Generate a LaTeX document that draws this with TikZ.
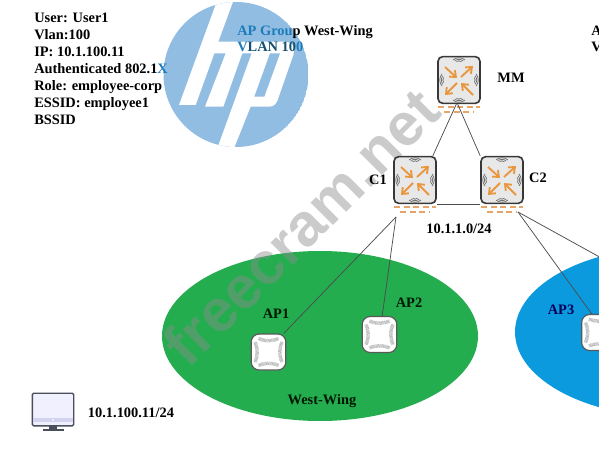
\documentclass[tikz,border=0pt]{standalone}
\usepackage{fontspec}
\setmainfont{Liberation Serif}
\newfontfamily\wmfont{Liberation Sans}
\usetikzlibrary{arrows.meta}
\definecolor{hpblue}{HTML}{92BDE3}
\definecolor{tblue}{HTML}{1C7CBA}
\definecolor{tmid}{HTML}{14506F}
\definecolor{wgreen}{HTML}{23AD4F}
\definecolor{eblue}{HTML}{0C9ADF}
\definecolor{orng}{HTML}{E8973F}
\definecolor{dashor}{HTML}{E6A468}
\definecolor{frame}{HTML}{4A4F5C}
\tikzset{
  x=.75pt,y=-.75pt,
  lab/.style={font=\fontsize{10.8}{12.7}\selectfont\bfseries,inner sep=0pt,text=black},
  onGreen/.style={lab,text=black!85!green!60!black},
  onBlue/.style={lab,text=blue!35!black},
  link/.style={draw=black!70,line width=.55pt},
  ctrlbox/.style={draw=black!78,line width=1.2pt,fill=black!9,rounded corners=3.5pt,minimum width=31.5pt,minimum height=35pt,inner sep=0pt},
  apbox/.style={draw=black!65,line width=.9pt,fill=white,rounded corners=6pt,minimum width=26pt,minimum height=27pt,inner sep=0pt},
  pics/ctrlmark/.style={code={
    \foreach \sx/\sy/\ex/\ey in {-14/-13/-2/-2,2/-3/14/-14,-2/3/-14/15,14/15/2/3}
      \draw[orng,line width=1.4pt,-{Straight Barb[length=4pt,width=6.5pt]}] (\sx,\sy) -- (\ex,\ey);
    \foreach \a/\d in {0/17,90/14,180/17,270/14}
      \foreach \w in {2.5,4.2,6}
        \draw[rotate=\a,black!60,line width=.5pt]
          (-\w,-\d-\w*.5) .. controls (-\w*.4,-\d-\w*1) and (\w*.4,-\d-\w*1) .. (\w,-\d-\w*.5);
    \draw[dashor,line width=1.3pt,dash pattern=on 4.6pt off 2.6pt] (-21,27) -- (21,27);
    \draw[dashor,line width=1.3pt,dash pattern=on 4.6pt off 2.6pt] (-15,32) -- (15,32);
  }},
  pics/apmark/.style={code={
    \foreach \a in {0,90,180,270}
      \draw[rotate=\a,black!28,line width=2.6pt,dash pattern=on .5pt off .4pt]
        (-10,-13.5) .. controls (-3,-10.5) and (3,-10.5) .. (10,-13.5);
  }}
}
\begin{document}
\begin{tikzpicture}
\useasboundingbox (0,0) rectangle (599,449);
\clip (0,0) rectangle (599,449);
\fill[white] (0,0) rectangle (599,449);
% HP logo
\begin{scope}
  \clip (236,74.5) circle [radius=72.5];
  \fill[hpblue] (236,74.5) circle [radius=72.5];
  \begin{scope}[shift={(155,0)},x=.25pt,y=-.25pt]
    \fill[white] (187,0) -- (236,0) -- (190,125) -- (385,125)
      .. controls (408,125) and (424,135) .. (415,165)
      -- (368,300) .. controls (362,315) and (355,320) .. (340,320)
      -- (287,320) -- (235,450) -- (185,450) -- (290,160) -- (262,160)
      -- (205,320) -- (150,320) -- (212,160) -- (178,160) -- (122,315) -- (72,315) -- cycle;
    \fill[hpblue] (345,160) -- (375,160) -- (328,290) -- (298,290) -- cycle;
  \end{scope}
\end{scope}
% ellipses
\fill[wgreen] (320,336) ellipse [x radius=158,y radius=85];
\fill[eblue] (673,332) ellipse [x radius=158,y radius=85];
% watermark
\node[rotate=45,text=black!45,opacity=.45,inner sep=0pt,font=\fontsize{45}{45}\selectfont\wmfont\bfseries] (wm) at (301,227) {freecram.net};
% texts
\node[lab,anchor=north west,align=left] (info) at (34,13) {User: User1\\Vlan:100\\IP: 10.1.100.11\\Authenticated 802.1\textcolor{tblue}{X}\\Role: employee-corp\\ESSID: employee1\\BSSID};
\node[lab,anchor=base west] (grp) at (237,36) {\textcolor{tblue}{AP Grou}p West-Wing};
\node[lab,anchor=base west] (vlan) at (237,52) {\textcolor{tblue}{V}\textcolor{tmid}{LAN 10}\textcolor{tblue}{0}};
\node[lab,anchor=base west] (grpb) at (591,36) {A};
\node[lab,anchor=base west] (vlanb) at (591,52) {V};
% controllers
\node[ctrlbox] (mm) at (459,80) {};
\node[ctrlbox] (c1) at (415,180) {};
\node[ctrlbox] (c2) at (502,180) {};
\pic at (459,80) {ctrlmark};
\pic at (415,180) {ctrlmark};
\pic at (502,180) {ctrlmark};
\node[lab] (lmm) at (511,78) {MM};
\node[lab] (lc1) at (378,180) {C1};
\node[lab] (lc2) at (538,178) {C2};
\node[lab] (net) at (459,229) {10.1.1.0/24};
% access points
\node[apbox] (ap1) at (268.5,352) {};
\node[apbox] (ap2) at (379.5,334.5) {};
\node[apbox] (ap3) at (599,332.5) {};
\pic at (268.5,352) {apmark};
\pic at (379.5,334.5) {apmark};
\pic at (599,332.5) {apmark};
\node[onGreen] (lap1) at (276,314) {AP1};
\node[onGreen] (lap2) at (409,303) {AP2};
\node[onBlue] (lap3) at (561,310) {AP3};
\node[onGreen] (lww) at (322,401) {West-Wing};
% ports and free ends
\coordinate (c1port) at (396,217);
\coordinate (c2port) at (518,212);
\coordinate (east) at (605,260);
% links
\draw[link] ([xshift=-2pt]mm.south) -- ([xshift=-3pt]c1.north east);
\draw[link] ([xshift=-1pt]mm.south) -- (c2.north west);
\draw[link] (c1.south east) -- (c2.south west);
\draw[link] (c1port) -- ([xshift=-2pt]ap1.north east);
\draw[link] (c1port) -- ([xshift=2pt]ap2.north);
\draw[link] (c2port) -- ([xshift=8pt]ap3.north west);
\draw[link] (c2port) -- (east);
% PC
\node[draw=frame,line width=1pt,fill=black!2!blue!6,rounded corners=1pt,minimum width=31pt,minimum height=24.5pt,inner sep=0pt] (pc) at (53,409.5) {};
\fill[frame!45!blue!20!white] (33,417.5) rectangle (73,422);
\fill[white] (53,420) circle [radius=1];
\fill[frame] (49,426) rectangle (57,429);
\draw[frame,line width=1pt] (42.5,430) -- (63.5,430);
\node[lab] (pcip) at (131,413) {10.1.100.11/24};
\end{tikzpicture}
\end{document}
